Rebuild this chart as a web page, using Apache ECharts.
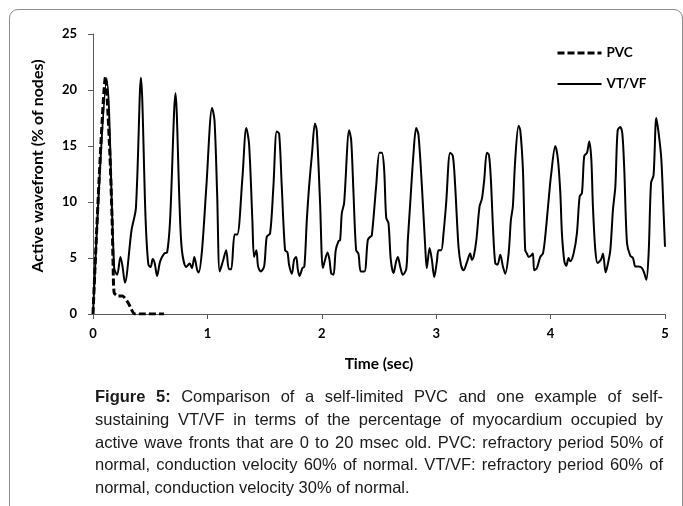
<!DOCTYPE html>
<html><head><meta charset="utf-8">
<script src="https://cdn.jsdelivr.net/npm/echarts@6/dist/echarts.min.js"></script>
<style>
html,body{margin:0;padding:0;background:#fff;}
#wrap{position:relative;width:683px;height:506px;overflow:hidden;background:#fff;}
#box{position:absolute;left:9px;top:9px;width:674px;height:620px;border:1px solid #8c8c8c;border-radius:9px;box-sizing:border-box;}
#chart{position:absolute;left:0;top:0;width:683px;height:506px;}
#cap{position:absolute;left:95px;top:385px;width:568px;font-family:"Liberation Sans",Arial,sans-serif;font-size:16.5px;line-height:22.8px;color:#1a1a1a;}
#cap div{text-align:justify;text-align-last:justify;}
#cap div.last{text-align-last:left;}
</style></head>
<body>
<div id="wrap">
<div id="box"></div>
<div id="chart"></div>
<div id="cap">
<div><b>Figure 5:</b> Comparison of a self-limited PVC and one example of self-</div>
<div>sustaining VT/VF in terms of the percentage of myocardium occupied by</div>
<div>active wave fronts that are 0 to 20 msec old. PVC: refractory period 50% of</div>
<div>normal, conduction velocity 60% of normal. VT/VF: refractory period 60% of</div>
<div class="last">normal, conduction velocity 30% of normal.</div>
</div>
</div>
<script>
const seriesNames = ['PVC', 'VT/VF'];
const xAxisTitle = 'Time (sec)';
const yAxisTitle = 'Active wavefront (% of nodes)';

const pvcTime  = [0, 0.11, 0.147, 0.167, 0.176, 0.185, 0.22, 0.258, 0.308, 0.367, 0.62];
const pvcValue = [0, 21.2, 14.4, 8.4, 4.25, 1.9, 1.6, 1.6, 1.0, 0, 0];

const vtTime = [
 0, 0.12, 0.185, 0.211, 0.24, 0.258, 0.279, 0.337, 0.375, 0.419, 0.46, 0.484, 0.504, 0.522, 0.54, 0.56, 0.587, 0.622, 0.648, 0.674, 0.721, 0.757, 0.777, 0.815, 0.845, 0.865, 0.886, 0.909, 0.924, 0.953, 0.991,
 1.041, 1.062, 1.085, 1.108, 1.138, 1.164, 1.188, 1.208, 1.238, 1.261, 1.305, 1.34, 1.364, 1.393, 1.408, 1.428, 1.443, 1.466, 1.496, 1.519, 1.548, 1.577, 1.606, 1.627, 1.65, 1.679, 1.70, 1.714, 1.738, 1.758, 1.776, 1.79, 1.805, 1.831, 1.848, 1.869, 1.889, 1.915, 1.94, 1.956, 1.985,
 2.009, 2.029, 2.05, 2.067, 2.082, 2.102, 2.122, 2.146, 2.16, 2.175, 2.195, 2.239, 2.257, 2.277, 2.30, 2.32, 2.341, 2.373, 2.402, 2.423, 2.437, 2.475, 2.504, 2.525, 2.545, 2.563, 2.583, 2.603, 2.627, 2.65, 2.665, 2.685, 2.708, 2.738, 2.752, 2.773, 2.802, 2.825, 2.845, 2.875, 2.904, 2.918, 2.942, 2.962, 2.983,
 3.006, 3.02, 3.044, 3.064, 3.087, 3.122, 3.146, 3.166, 3.195, 3.216, 3.239, 3.268, 3.297, 3.312, 3.327, 3.35, 3.379, 3.4, 3.42, 3.443, 3.461, 3.478, 3.496, 3.516, 3.536, 3.56, 3.583, 3.603, 3.633, 3.653, 3.67, 3.691, 3.72, 3.735, 3.758, 3.778, 3.793, 3.808, 3.828, 3.845, 3.857, 3.88, 3.91, 3.933, 3.953, 3.983,
 4.003, 4.041, 4.064, 4.085, 4.099, 4.12, 4.137, 4.157, 4.172, 4.201, 4.23, 4.254, 4.274, 4.294, 4.318, 4.338, 4.356, 4.37, 4.391, 4.411, 4.44, 4.458, 4.481, 4.499, 4.522, 4.545, 4.566, 4.586, 4.609, 4.627, 4.644, 4.668, 4.697, 4.72, 4.741, 4.77, 4.799, 4.819, 4.837, 4.857, 4.878, 4.9, 4.924, 4.945, 4.968, 4.988, 5.0
];
const vtValue = [
 0, 20.8, 4.1, 3.5, 5.1, 4.25, 2.8, 7.5, 9.45, 21.1, 8.4, 4.4, 4.2, 4.9, 4.5, 3.4, 4.7, 5.4, 5.5, 8.4, 19.7, 9.6, 5.7, 4.2, 4.5, 4.1, 5.1, 4.0, 3.7, 5.7, 11.4,
 18.4, 17.3, 10.8, 3.8, 4.8, 5.7, 4.0, 4.0, 7.1, 7.1, 12.0, 16.6, 15.2, 8.4, 5.1, 5.7, 4.25, 3.8, 4.25, 6.9, 7.2, 11.4, 16.3, 16.1, 11.4, 5.7, 5.5, 4.4, 3.6, 4.85, 5.1, 4.0, 3.4, 4.1, 4.25, 8.4, 11.4, 14.4, 17.0, 16.4, 9.9,
 4.1, 4.85, 5.5, 4.85, 3.65, 3.5, 5.7, 6.5, 6.6, 9.0, 9.9, 16.4, 15.5, 10.8, 5.7, 5.4, 3.8, 3.8, 6.6, 6.9, 7.0, 11.4, 14.4, 14.4, 12.9, 8.6, 8.1, 4.85, 3.65, 4.7, 5.1, 4.25, 3.5, 4.0, 6.6, 9.9, 14.4, 16.6, 16.0, 11.4, 6.0, 4.1, 5.9, 4.85, 3.3,
 4.7, 5.7, 5.7, 7.2, 9.9, 14.4, 14.1, 11.4, 6.0, 4.4, 3.9, 4.6, 5.4, 4.85, 5.1, 6.5, 9.6, 10.3, 12.0, 14.4, 14.2, 12.0, 7.8, 4.55, 4.4, 5.3, 4.25, 3.6, 5.4, 8.4, 9.6, 13.8, 16.8, 16.4, 12.9, 5.7, 5.4, 5.1, 5.2, 5.4, 3.9, 4.1, 5.1, 5.4, 6.9, 10.2,
 12.3, 15.0, 13.8, 10.8, 7.2, 4.7, 4.3, 5.0, 4.7, 5.4, 7.2, 10.5, 10.8, 14.1, 14.4, 15.4, 13.8, 9.6, 5.7, 4.55, 4.85, 5.4, 3.7, 4.4, 5.7, 9.3, 11.4, 16.4, 16.7, 16.1, 12.9, 6.3, 5.2, 5.0, 4.25, 4.25, 4.1, 3.65, 3.05, 5.4, 11.7, 12.4, 17.5, 16.1, 13.8, 9.0, 6.0
];

const font = 'Lato, "Open Sans", sans-serif';
const pairs = (xs, ys) => xs.map((x, i) => [x, ys[i]]);

const chart = echarts.init(document.getElementById('chart'), null, {renderer: 'canvas'});
chart.setOption({
  animation: false,
  backgroundColor: 'transparent',
  grid: {left: 93, right: 18, top: 34, bottom: 192, containLabel: false},
  legend: {
    orient: 'vertical', left: 556, top: 46, padding: 0,
    itemWidth: 44, itemHeight: 14, itemGap: 17,
    itemStyle: {opacity: 0},
    lineStyle: {width: 'inherit'},
    data: seriesNames,
    textStyle: {fontFamily: font, fontWeight: 'bold', fontSize: 13.5, color: '#000'}
  },
  xAxis: {
    type: 'value', min: 0, max: 5, interval: 1,
    axisLine: {lineStyle: {color: '#595959', width: 1}},
    axisTick: {show: true, length: 5, lineStyle: {color: '#595959'}},
    splitLine: {show: false},
    axisLabel: {margin: 13, fontFamily: font, fontWeight: 'bold', fontSize: 13, color: '#000'},
    name: xAxisTitle, nameLocation: 'middle', nameGap: 42,
    nameTextStyle: {fontFamily: font, fontWeight: 'bold', fontSize: 15.5, color: '#000'}
  },
  yAxis: {
    type: 'value', min: 0, max: 25, interval: 5,
    axisLine: {show: true, lineStyle: {color: '#595959', width: 1}},
    axisTick: {show: true, length: 5, lineStyle: {color: '#595959'}},
    splitLine: {show: false},
    axisLabel: {margin: 16, fontFamily: font, fontWeight: 'bold', fontSize: 13, color: '#000'},
    name: yAxisTitle, nameLocation: 'middle', nameGap: 47,
    nameTextStyle: {fontFamily: font, fontWeight: 'bold', fontSize: 16, color: '#000', padding: [0, 0, 0, 16]}
  },
  series: [
    {
      name: seriesNames[0], type: 'line', data: pairs(pvcTime, pvcValue),
      symbol: 'none', smooth: 0.2, z: 3,
      lineStyle: {color: '#000', width: 3, type: [7, 3]},
      itemStyle: {color: '#000'}
    },
    {
      name: seriesNames[1], type: 'line', data: pairs(vtTime, vtValue),
      symbol: 'none', smooth: 0.3, z: 2,
      lineStyle: {color: '#000', width: 2},
      itemStyle: {color: '#000'}
    }
  ]
});
</script>
</body></html>
